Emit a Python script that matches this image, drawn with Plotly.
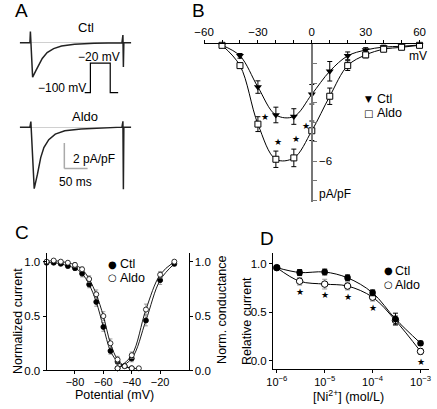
import numpy as np
import plotly.graph_objects as go

W, H = 437, 409
FONT = "Liberation Sans, Arial, Helvetica, sans-serif"

def PX(x):
    return x / W

def PY(y):
    return 1 - y / H

# ---------------- DATA ----------------
# Panel A: whole-cell current traces (time ms, current pA/pF)
a_ctl_t = [-25, -3, -2, 2.8, 9.8, 16.7, 23.5, 34, 48, 65, 93, 135, 195, 197, 198, 199, 215]
a_ctl_i = [0, 0, 0.87, -2.69, -2.18, -1.67, -1.23, -0.77, -0.46, -0.26, -0.13, -0.05, 0, 0.6, -1.9, 0, 0]
a_aldo_t = [-25, -3, -1, 6.2, 13.2, 20.2, 27, 37.5, 51.5, 72, 107, 162, 195, 197, 198, 199, 215]
a_aldo_i = [0, 0, 0.44, -4.8, -3.67, -2.38, -1.6, -0.98, -0.54, -0.28, -0.15, -0.08, 0, 0.46, -4.85, 0, 0]
protocol_t = [-15, 0, 0, 50, 50, 70]
protocol_v = [-100, -100, -20, -20, -100, -100]
scale_ms = 50
scale_pa = 2

# Panel B: I-V relation
b_v = [-50, -40, -30, -20, -10, 0, 10, 20, 30, 40, 50, 60]
b_ctl = [-0.05, -0.59, -2.19, -3.62, -3.70, -2.56, -1.38, -0.59, -0.29, -0.14, -0.10, -0.03]
b_ctl_err = [0.03, 0.12, 0.32, 0.4, 0.4, 0.5, 0.5, 0.2, 0.12, 0.1, 0.06, 0.05]
b_aldo = [-0.05, -1.09, -4.09, -5.89, -5.82, -4.43, -2.66, -1.09, -0.54, -0.25, -0.15, -0.05]
b_aldo_err = [0.05, 0.12, 0.38, 0.42, 0.45, 0.5, 0.42, 0.25, 0.15, 0.12, 0.1, 0.05]
b_sig_v = [-30, -20, -10, 0]
b_xticks = [-60, -30, 0, 30, 60]
b_xlabels = ["−60", "−30", "0", "30", "60"]
b_xminor = [-50, -40, -20, -10, 10, 20, 40, 50]
b_yticks = [-6]
b_ylabels = ["−6"]
b_yminor = [-1, -2, -3, -4, -5, -7, -8]

# Panel C: inactivation / activation
c_inact_v_ctl = [-100, -95, -90, -85, -80, -75, -70, -65, -60, -55, -50, -45, -40]
c_inact_ctl = [0.99, 0.99, 0.98, 0.96, 0.94, 0.89, 0.79, 0.63, 0.40, 0.18, 0.08, 0.04, 0.02]
c_inact_ctl_err = [0.0, 0.01, 0.01, 0.02, 0.02, 0.03, 0.03, 0.04, 0.04, 0.03, 0.02, 0.01, 0.01]
c_inact_v_aldo = [-100, -95, -90, -85, -80, -75, -70, -65, -60, -55, -50, -45, -40, -35]
c_inact_aldo = [1.0, 1.01, 1.0, 0.99, 0.97, 0.93, 0.84, 0.70, 0.50, 0.25, 0.10, 0.04, 0.02, 0.02]
c_inact_aldo_err = [0.0, 0.01, 0.01, 0.01, 0.02, 0.02, 0.03, 0.04, 0.04, 0.04, 0.03, 0.02, 0.01, 0.01]
c_act_v = [-50, -40, -30, -20, -10]
c_act_ctl = [0.02, 0.11, 0.46, 0.83, 0.98]
c_act_ctl_err = [0.01, 0.03, 0.05, 0.04, 0.02]
c_act_aldo = [0.02, 0.14, 0.56, 0.88, 1.0]
c_act_aldo_err = [0.01, 0.03, 0.05, 0.03, 0.01]
c_xticks = [-80, -60, -40, -20]
c_xlabels = ["−80", "−60", "−40", "−20"]
c_yticks = [0, 0.5, 1.0]
c_ylabels = ["0.0", "0.5", "1.0"]

# Panel D: Ni2+ block
d_conc = [1e-6, 3e-6, 1e-5, 3e-5, 1e-4, 3e-4, 1e-3]
d_ctl = [0.96, 0.91, 0.915, 0.855, 0.70, 0.43, 0.18]
d_ctl_err = [0.02, 0.03, 0.03, 0.03, 0.03, 0.06, 0.02]
d_aldo = [0.96, 0.82, 0.79, 0.77, 0.655, 0.415, 0.095]
d_aldo_err = [0.02, 0.04, 0.05, 0.04, 0.04, 0.05, 0.03]
d_sig = [3e-6, 1e-5, 3e-5, 1e-4, 1e-3]
d_xticks = [1e-6, 1e-5, 1e-4, 1e-3]
d_xlabels = ["10<sup>−6</sup>", "10<sup>−5</sup>", "10<sup>−4</sup>", "10<sup>−3</sup>"]

# ---------------- FIGURE ----------------
fig = go.Figure()

# Panel A traces
fig.add_trace(go.Scatter(x=a_ctl_t, y=a_ctl_i, mode="lines", line=dict(color="#222", width=1.5),
                         xaxis="x", yaxis="y", showlegend=False, cliponaxis=False))
fig.add_trace(go.Scatter(x=a_aldo_t, y=a_aldo_i, mode="lines", line=dict(color="#222", width=1.5),
                         xaxis="x2", yaxis="y2", showlegend=False, cliponaxis=False))
fig.add_trace(go.Scatter(x=protocol_t, y=protocol_v, mode="lines", line=dict(color="black", width=1.2),
                         xaxis="x3", yaxis="y3", showlegend=False, cliponaxis=False))

# Panel B
fig.add_trace(go.Scatter(x=b_v, y=b_ctl, mode="lines+markers",
                         line=dict(color="black", width=1, shape="spline"),
                         marker=dict(symbol="triangle-down", size=7, color="black"),
                         error_y=dict(type="data", array=b_ctl_err, color="black", thickness=1, width=2.5),
                         xaxis="x4", yaxis="y4", showlegend=False, cliponaxis=False))
fig.add_trace(go.Scatter(x=b_v, y=b_aldo, mode="lines+markers",
                         line=dict(color="black", width=1, shape="spline"),
                         marker=dict(symbol="square", size=6, color="white", line=dict(color="black", width=1)),
                         error_y=dict(type="data", array=b_aldo_err, color="black", thickness=1, width=2.5),
                         xaxis="x4", yaxis="y4", showlegend=False, cliponaxis=False))

# Panel C
for vv, yy, ee, filled in [
    (c_inact_v_ctl, c_inact_ctl, c_inact_ctl_err, True),
    (c_act_v, c_act_ctl, c_act_ctl_err, True),
    (c_inact_v_aldo, c_inact_aldo, c_inact_aldo_err, False),
    (c_act_v, c_act_aldo, c_act_aldo_err, False),
]:
    fig.add_trace(go.Scatter(
        x=vv, y=yy, mode="lines+markers",
        line=dict(color="black", width=0.9, shape="spline"),
        marker=dict(symbol="circle", size=5,
                    color="black" if filled else "white",
                    line=dict(color="black", width=0.8)),
        error_y=dict(type="data", array=ee, color="#888", thickness=0.8, width=2),
        xaxis="x5", yaxis="y5", showlegend=False, cliponaxis=False))
fig.add_trace(go.Scatter(x=[], y=[], xaxis="x5", yaxis="y6", showlegend=False))

# Panel D
fig.add_trace(go.Scatter(x=d_conc, y=d_aldo, mode="lines+markers",
                         line=dict(color="black", width=1, shape="spline"),
                         marker=dict(symbol="circle", size=6.5, color="white", line=dict(color="black", width=1)),
                         error_y=dict(type="data", array=d_aldo_err, color="#999", thickness=1, width=2.5),
                         xaxis="x7", yaxis="y7", showlegend=False, cliponaxis=False))
fig.add_trace(go.Scatter(x=d_conc, y=d_ctl, mode="lines+markers",
                         line=dict(color="black", width=1, shape="spline"),
                         marker=dict(symbol="circle", size=6.5, color="black"),
                         error_y=dict(type="data", array=d_ctl_err, color="black", thickness=1, width=2.5),
                         xaxis="x7", yaxis="y7", showlegend=False, cliponaxis=False))

hidden = dict(visible=False, showgrid=False, zeroline=False)
tickfont = dict(family=FONT, size=11.5, color="black")

def axis(**kw):
    base = dict(showgrid=False, zeroline=False, showline=True, linecolor="black", linewidth=1,
                ticks="outside", ticklen=3, tickwidth=1, tickcolor="black", tickfont=tickfont,
                tickmode="array")
    base.update(kw)
    return base

layout = dict(
    width=W, height=H, margin=dict(l=0, r=0, t=0, b=0),
    paper_bgcolor="white", plot_bgcolor="rgba(0,0,0,0)",
    font=dict(family=FONT, color="black"),
    # Panel A
    xaxis=dict(hidden, domain=[PX(10), PX(125)], range=[-25, 215], anchor="y"),
    yaxis=dict(domain=[PY(82), PY(28)], range=[-2.98, 1.18], anchor="x", showgrid=False,
               showline=False, showticklabels=False, ticks="", zeroline=True,
               zerolinecolor="#d0d0d0", zerolinewidth=1),
    xaxis2=dict(hidden, domain=[PX(10), PX(125)], range=[-25, 215], anchor="y2"),
    yaxis2=dict(domain=[PY(200), PY(115)], range=[-5.46, 1.08], anchor="x2", showgrid=False,
                showline=False, showticklabels=False, ticks="", zeroline=True,
                zerolinecolor="#d0d0d0", zerolinewidth=1),
    xaxis3=dict(hidden, domain=[PX(76.7), PX(112.3)], range=[-15, 72], anchor="y3"),
    yaxis3=dict(hidden, domain=[PY(98), PY(60)], range=[-110.7, -9.3], anchor="x3"),
    # Panel B
    xaxis4=axis(domain=[PX(200), PX(425.8)], range=[-60, 62], anchor="y4", side="top",
                tickvals=b_xticks, ticktext=b_xlabels,
                minor=dict(tickmode="array", tickvals=b_xminor, ticks="outside", ticklen=3,
                           tickwidth=1, tickcolor="black", showgrid=False)),
    yaxis4=axis(domain=[PY(205), PY(45)], range=[-8.08, 0], anchor="free", position=PX(311),
                side="right", linecolor="#777", linewidth=2, tickcolor="#777", ticklen=4,
                tickvals=b_yticks, ticktext=b_ylabels,
                minor=dict(tickmode="array", tickvals=b_yminor, ticks="outside", ticklen=4,
                           tickwidth=1, tickcolor="#777", showgrid=False)),
    # Panel C
    xaxis5=axis(domain=[PX(37.7), PX(184)], range=[-100, 0], anchor="y5",
                tickvals=c_xticks, ticktext=c_xlabels, ticklabelstandoff=-2,
                tickfont=dict(family=FONT, size=11, color="black")),
    yaxis5=axis(domain=[PY(376), PY(256.7)], range=[0, 1.08], anchor="x5",
                tickvals=c_yticks, ticktext=c_ylabels),
    yaxis6=axis(domain=[PY(376), PY(256.7)], range=[0, 1.08], anchor="x5", overlaying="y5",
                side="right", tickvals=c_yticks, ticktext=c_ylabels),
    # Panel D
    xaxis7=axis(type="log", domain=[PX(271), PX(432)], range=[-6.08, -2.82], anchor="y7",
                tickvals=d_xticks, ticktext=d_xlabels, ticklabelstandoff=-1,
                tickfont=dict(family=FONT, size=11, color="black")),
    yaxis7=axis(domain=[PY(375), PY(256.7)], range=[-0.0916, 1.112], anchor="x7",
                tickvals=c_yticks, ticktext=c_ylabels),
)

def ann(text, x, y, size=12.5, xanchor="center", yanchor="middle", angle=0, family=FONT):
    return dict(text=text, x=PX(x), y=PY(y), xref="paper", yref="paper", showarrow=False,
                font=dict(size=size, family=family, color="black"),
                xanchor=xanchor, yanchor=yanchor, textangle=angle, borderpad=0)

anns = [
    # panel letters
    ann("A", 12, 11, size=19), ann("B", 194, 11, size=19),
    ann("C", 12, 236, size=19), ann("D", 265, 242, size=19),
    # Panel A texts
    ann("Ctl", 78, 28, size=13), ann("Aldo", 77, 118, size=13),
    ann("−20 mV", 92, 58, size=12), ann("−100 mV", 54, 89.5, size=12),
    ann("2 pA/pF", 64, 161, size=12, xanchor="left"), ann("50 ms", 68, 185, size=12),
    # Panel B texts
    ann("mV", 421, 57, size=12), ann("pA/pF", 335, 197, size=12),
    ann("▼", 369, 100, size=9, family="DejaVu Sans"), ann("Ctl", 377, 100, size=12.5, xanchor="left"),
    ann("□", 369, 115, size=10, family="DejaVu Sans"), ann("Aldo", 377, 115, size=12.5, xanchor="left"),
    # Panel C texts
    ann("Normalized current", 8, 326, size=12.5, angle=-90),
    ann("Norm. conductance", 219, 314, size=12.5, angle=-90),
    ann("Potential (mV)", 108, 401, size=12.5),
    ann("●", 106, 268, size=10, family="DejaVu Sans"), ann("Ctl", 112, 268, size=12.5, xanchor="left"),
    ann("○", 106, 282, size=10, family="DejaVu Sans"), ann("Aldo", 112, 282, size=12.5, xanchor="left"),
    # Panel D texts
    ann("Relative current", 244, 326, size=12.5, angle=-90),
    ann("[Ni<sup>2+</sup>] (mol/L)", 349, 402, size=12.5),
    ann("●", 390, 275, size=10, family="DejaVu Sans"), ann("Ctl", 396, 275, size=12.5, xanchor="left"),
    ann("○", 390, 289, size=10, family="DejaVu Sans"), ann("Aldo", 396, 289, size=12.5, xanchor="left"),
]

# significance stars, B (placed relative to Aldo points)
b_star_shift = {-30: (7, 7), -20: (2, 17), -10: (2, 19), 0: (-6, 5)}
for v in b_sig_v:
    i = b_v.index(v)
    dx, dy = b_star_shift[v]
    anns.append(dict(text="★", x=v, y=b_aldo[i], xref="x4", yref="y4", showarrow=False,
                     xshift=dx, yshift=dy, font=dict(size=9, family="DejaVu Sans", color="black")))
# significance stars, D
for c in d_sig:
    i = d_conc.index(c)
    anns.append(dict(text="★", x=np.log10(c), y=d_aldo[i], xref="x7", yref="y7", showarrow=False,
                     xshift=0, yshift=-11, font=dict(size=9, family="DejaVu Sans", color="black")))

layout["annotations"] = anns

# scale bars (panel A, Aldo trace axes)
sb_t0, sb_i0 = 71, -3.23
layout["shapes"] = [
    dict(type="line", xref="x2", yref="y2", x0=sb_t0, x1=sb_t0, y0=sb_i0, y1=sb_i0 + scale_pa,
         line=dict(color="#aaa", width=1.5)),
    dict(type="line", xref="x2", yref="y2", x0=sb_t0, x1=sb_t0 + scale_ms, y0=sb_i0, y1=sb_i0,
         line=dict(color="#aaa", width=1.5)),
]

fig.update_layout(**layout)
fig.write_html("out.html", config={"displayModeBar": False},
               post_script="document.body.style.margin='0';document.body.style.overflow='hidden';")
